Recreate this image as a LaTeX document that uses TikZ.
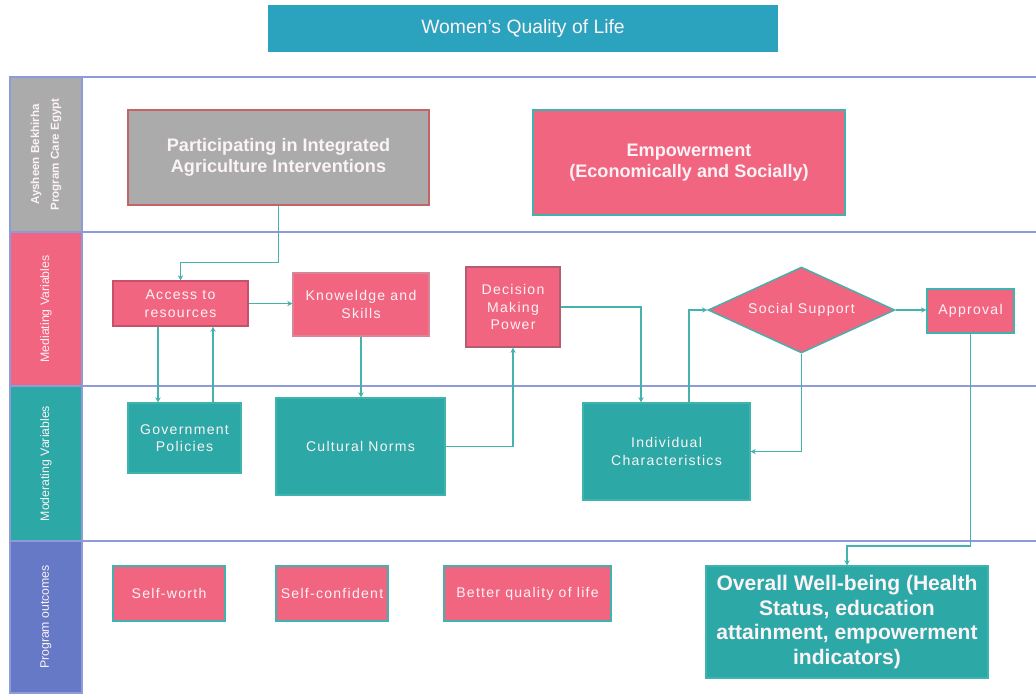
\documentclass[tikz,border=0pt]{standalone}
\usepackage{fontspec}
\setmainfont{Liberation Sans}
\newfontfamily\spc[LetterSpace=9]{Liberation Sans}
\usetikzlibrary{shapes.geometric,arrows.meta}
\definecolor{pinkc}{HTML}{F26581}
\definecolor{pinkbd}{HTML}{C9506A}
\definecolor{tealc}{HTML}{2CA8A7}
\definecolor{tealbd}{HTML}{3FB3AE}
\definecolor{titlec}{HTML}{2BA3BF}
\definecolor{grayc}{HTML}{ABABAB}
\definecolor{graybd}{HTML}{C46464}
\definecolor{lanebl}{HTML}{6579C6}
\definecolor{lanel}{HTML}{8D9BD8}
\definecolor{connc}{HTML}{45B2AE}
\definecolor{txtc}{HTML}{FBF3F5}
\tikzset{
  bx/.style={rectangle, inner sep=0pt, align=center, text=txtc, font=\spc\fontsize{8}{10}\selectfont},
  pinkbox/.style={bx, fill=pinkc, draw=pinkbd, line width=0.6pt},
  pinktbox/.style={bx, fill=pinkc, draw=tealbd, line width=0.8pt},
  tealbox/.style={bx, fill=tealc, draw=tealbd, line width=0.6pt},
  lanelab/.style={rectangle, draw=lanel, line width=0.8pt},
  lanetxt/.style={rotate=90, align=center, text=txtc, font=\fontsize{7}{8.5}\selectfont},
  conn/.style={draw=connc, line width=0.9pt, -{Stealth[length=3pt,width=3pt]}},
  laneline/.style={draw=lanel, line width=1.2pt}
}
\begin{document}
\begin{tikzpicture}[x=0.2mm,y=-0.2mm]
\useasboundingbox (0,0) rectangle (1036,693);
% title
\node[rectangle, fill=titlec, minimum width=102mm, minimum height=9.4mm, text=txtc, font=\fontsize{11}{13}\selectfont] (title) at (523,28.5) {Women's Quality of Life};
% lane label column
\filldraw[lanelab, fill=grayc] (10,77) rectangle (82,232);
\filldraw[lanelab, fill=pinkc] (10,232) rectangle (82,386);
\filldraw[lanelab, fill=tealc] (10,386) rectangle (82,541);
\filldraw[lanelab, fill=lanebl] (10,541) rectangle (82,693);
\node[lanetxt, font=\bfseries\fontsize{6.6}{11.2}\selectfont] (l1) at (46,154.5) {Aysheen Bekhirha\\Program Care Egypt};
\node[lanetxt] (l2) at (46,309) {Mediating Variables};
\node[lanetxt] (l3) at (46,463.5) {Moderating Variables};
\node[lanetxt] (l4) at (46,617) {Program outcomes};
% lane lines
\draw[laneline] (10,77) -- (1036,77);
\draw[laneline] (82,232) -- (1036,232);
\draw[laneline] (82,386) -- (1036,386);
\draw[laneline] (82,541) -- (1036,541);
% nodes
\node[bx, fill=grayc, draw=graybd, line width=0.6pt, minimum width=60.2mm, minimum height=19mm, font=\bfseries\fontsize{10.3}{12}\selectfont] (part) at (278.5,157.5) {Participating in Integrated\\Agriculture Interventions};
\node[pinktbox, minimum width=62.4mm, minimum height=21mm, font=\bfseries\fontsize{10.3}{12}\selectfont] (emp) at (689,162.5) {Empowerment\\(Economically and Socially)};
\node[pinkbox, minimum width=27mm, minimum height=9mm] (acc) at (180.5,303.5) {Access to\\resources};
\node[pinkbox, draw=pinkbd!70, minimum width=27.2mm, minimum height=12.6mm] (know) at (361,304.5) {Knoweldge and\\Skills};
\node[pinkbox, draw=pinkbd!70!gray, minimum width=18.8mm, minimum height=16mm] (dec) at (513,307) {Decision\\Making\\Power};
\node[bx, diamond, shape aspect=2.17, fill=pinkc, draw=tealbd, line width=0.8pt, minimum width=37.4mm, minimum height=17.2mm] (soc) at (801.5,310) {Social Support};
\node[pinktbox, minimum width=17.4mm, minimum height=8.8mm] (appr) at (970.5,311) {Approval};
\node[tealbox, minimum width=22.6mm, minimum height=14mm] (gov) at (184.5,438) {Government\\Policies};
\node[tealbox, minimum width=33.8mm, minimum height=19.4mm] (cult) at (360.5,446.5) {Cultural Norms};
\node[tealbox, minimum width=33.4mm, minimum height=19.4mm] (ind) at (666.5,451.5) {Individual\\Characteristics};
\node[pinktbox, minimum width=22.4mm, minimum height=11mm] (sw) at (169,593.5) {Self-worth};
\node[pinktbox, minimum width=22.4mm, minimum height=11mm] (sc) at (332,593.5) {Self-confident};
\node[pinktbox, minimum width=33.4mm, minimum height=11mm] (bq) at (527.5,593.5) {Better quality of life};
\node[tealbox, minimum width=56.4mm, minimum height=22.4mm, font=\bfseries\fontsize{12}{14}\selectfont] (ow) at (847,622) {Overall Well-being (Health\\Status, education\\attainment, empowerment\\indicators)};
% connectors
\draw[conn] (part.south) -- ++(0,57) -| (acc.north);
\draw[conn] (acc.east) -- (acc.east -| know.west);
\draw[conn] ([xshift=-4.5mm]acc.south) -- ([xshift=-4.5mm]acc.south |- gov.north);
\draw[conn] ([xshift=6.5mm]acc.south |- gov.north) -- ([xshift=6.5mm]acc.south);
\draw[conn] (know.south) -- (know.south |- cult.north);
\draw[conn] (cult.east) -| (dec.south);
\draw[conn] (dec.east) -| ([xshift=-5.1mm]ind.north);
\draw[conn] ([xshift=4.5mm]ind.north) |- (soc.west);
\draw[conn] (soc.south) |- (ind.east);
\draw[conn] (soc.east) -- (soc.east -| appr.west);
\draw[conn] (appr.south) -- ++(0,212) -| (ow.north);
\end{tikzpicture}
\end{document}
